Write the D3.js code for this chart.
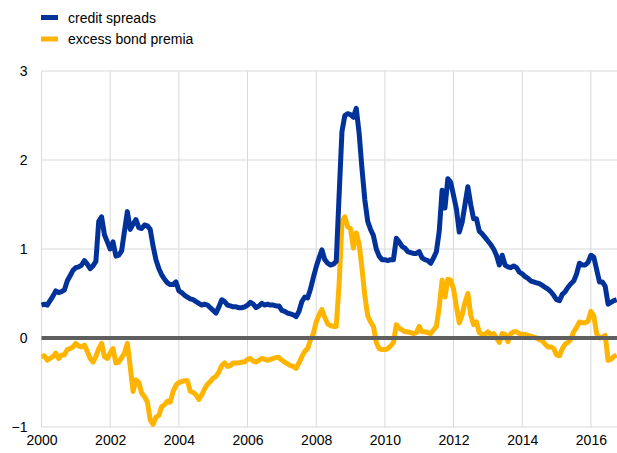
<!DOCTYPE html>
<html><head><meta charset="utf-8">
<script src="https://cdn.jsdelivr.net/npm/d3@7"></script>
<style>body{margin:0;background:#fff}svg{display:block}text{font-family:"Liberation Sans",Arial,sans-serif}</style>
</head><body><svg id="c" width="617" height="453"></svg>
<script>
const startYear = 2000;
const seriesNames = ["credit spreads", "excess bond premia"];
const creditSpreads = [
0.37,0.38,0.37,0.42,0.47,0.53,0.51,0.52,0.54,0.64,0.70,0.76,
0.79,0.80,0.82,0.87,0.83,0.78,0.81,0.86,1.31,1.36,1.16,1.08,
1.00,1.08,0.92,0.93,0.98,1.20,1.42,1.22,1.28,1.33,1.24,1.23,
1.27,1.26,1.22,1.03,0.88,0.78,0.71,0.66,0.62,0.60,0.60,0.63,
0.53,0.51,0.48,0.46,0.44,0.43,0.41,0.39,0.37,0.38,0.37,0.34,
0.31,0.28,0.35,0.43,0.41,0.37,0.36,0.35,0.35,0.34,0.34,0.35,
0.37,0.40,0.38,0.34,0.36,0.39,0.37,0.38,0.37,0.37,0.36,0.36,
0.31,0.30,0.28,0.27,0.26,0.24,0.30,0.41,0.46,0.45,0.55,0.68,
0.80,0.90,0.99,0.88,0.84,0.82,0.83,0.86,1.60,2.32,2.50,2.52,
2.51,2.48,2.58,2.30,1.90,1.55,1.31,1.22,1.15,1.00,0.92,0.88,
0.88,0.87,0.88,0.88,1.12,1.08,1.03,1.01,0.97,0.96,0.95,0.95,
0.97,0.90,0.88,0.87,0.84,0.90,0.97,1.20,1.66,1.46,1.79,1.75,
1.60,1.45,1.19,1.30,1.50,1.70,1.50,1.34,1.34,1.20,1.17,1.13,
1.09,1.05,1.00,0.93,0.82,0.93,0.82,0.80,0.79,0.81,0.79,0.74,
0.72,0.69,0.67,0.64,0.63,0.62,0.61,0.59,0.57,0.55,0.52,0.48,
0.43,0.42,0.49,0.52,0.57,0.61,0.64,0.72,0.84,0.82,0.82,0.85,
0.93,0.91,0.77,0.63,0.63,0.58,0.38,0.40,0.42,0.43];
const excessBondPremia = [
-0.21,-0.20,-0.25,-0.23,-0.21,-0.17,-0.23,-0.19,-0.19,-0.13,-0.12,-0.10,
-0.06,-0.09,-0.10,-0.08,-0.15,-0.23,-0.27,-0.21,-0.12,-0.06,-0.21,-0.23,
-0.17,-0.12,-0.28,-0.27,-0.22,-0.17,-0.06,-0.32,-0.60,-0.47,-0.50,-0.62,
-0.66,-0.72,-0.92,-0.97,-0.89,-0.87,-0.77,-0.75,-0.71,-0.72,-0.60,-0.53,
-0.50,-0.49,-0.48,-0.48,-0.60,-0.61,-0.64,-0.69,-0.64,-0.57,-0.52,-0.49,
-0.45,-0.43,-0.38,-0.31,-0.28,-0.32,-0.31,-0.28,-0.28,-0.28,-0.27,-0.27,
-0.24,-0.23,-0.26,-0.27,-0.25,-0.23,-0.24,-0.25,-0.24,-0.23,-0.22,-0.22,
-0.25,-0.27,-0.29,-0.31,-0.32,-0.34,-0.28,-0.21,-0.15,-0.12,-0.02,0.05,
0.18,0.26,0.32,0.23,0.16,0.14,0.13,0.13,0.60,1.31,1.36,1.25,
1.23,1.01,1.18,1.06,0.78,0.47,0.25,0.18,0.13,-0.05,-0.12,-0.13,
-0.13,-0.12,-0.09,-0.05,0.15,0.11,0.09,0.07,0.07,0.06,0.05,0.06,
0.13,0.07,0.07,0.06,0.05,0.09,0.13,0.35,0.65,0.46,0.66,0.65,
0.55,0.35,0.17,0.26,0.40,0.50,0.26,0.15,0.18,0.06,0.04,0.04,
0.07,0.04,0.05,0.00,-0.05,0.05,0.04,-0.04,0.05,0.07,0.07,0.05,
0.04,0.04,0.03,0.02,0.01,0.00,-0.02,-0.03,-0.07,-0.10,-0.10,-0.12,
-0.19,-0.20,-0.12,-0.07,-0.05,-0.01,0.07,0.12,0.18,0.17,0.17,0.19,
0.30,0.25,0.05,0.00,0.01,0.03,-0.25,-0.24,-0.21,-0.19];
const xTicks = [2000,2002,2004,2006,2008,2010,2012,2014,2016];
const yTicks = [-1,0,1,2,3];
const colors = ["#003299", "#FFB400"];

const svg = d3.select("#c");
const L = 41.5, R = 617, T = 71, B = 427;
const x = d3.scaleLinear().domain([2000, 2016.76]).range([L, R]);
const y = d3.scaleLinear().domain([-1, 3]).range([B, T]);

// grid
const g = svg.append("g");
g.selectAll("line.v").data(xTicks).join("line")
  .attr("x1", d => x(d)).attr("x2", d => x(d)).attr("y1", T).attr("y2", B)
  .attr("stroke", "#d9d9d9").attr("stroke-width", 1);
g.selectAll("line.h").data(yTicks).join("line")
  .attr("x1", L).attr("x2", R).attr("y1", d => y(d)).attr("y2", d => y(d))
  .attr("stroke", "#d9d9d9").attr("stroke-width", 1);

// axes labels
const yAxis = d3.axisLeft(y).tickValues(yTicks).tickSize(0).tickPadding(0).tickFormat(d3.format("d"));
const ya = svg.append("g").attr("transform", `translate(${L-14},0)`).call(yAxis);
ya.select(".domain").remove();
ya.selectAll("text").attr("font-size", 14).attr("fill", "#000").attr("font-family", "Liberation Sans, Arial, sans-serif");

const xAxis = d3.axisBottom(x).tickValues(xTicks).tickSize(0).tickPadding(0).tickFormat(d3.format("d"));
const xa = svg.append("g").attr("transform", `translate(0,${B+8})`).call(xAxis);
xa.select(".domain").remove();
xa.selectAll("text").attr("font-size", 14).attr("fill", "#000").attr("font-family", "Liberation Sans, Arial, sans-serif");

// lines
const line = d3.line().x((d, i) => x(startYear + i / 12)).y(d => y(d)).curve(d3.curveLinear);
[excessBondPremia, creditSpreads].forEach((s, k) => {
  svg.append("path").datum(s).attr("d", line).attr("fill", "none")
    .attr("stroke", k === 0 ? colors[1] : colors[0]).attr("stroke-width", 5)
    .attr("stroke-linejoin", "round").attr("stroke-linecap", "butt");
});

// zero line
svg.append("line").attr("x1", L).attr("x2", R).attr("y1", y(0)).attr("y2", y(0))
  .attr("stroke", "#5f5f5f").attr("stroke-width", 4);

// legend
const lg = svg.append("g");
seriesNames.forEach((n, i) => {
  lg.append("rect").attr("x", 41).attr("y", 15 + i * 21.5).attr("width", 17).attr("height", 5).attr("fill", colors[i]);
  lg.append("text").attr("x", 68).attr("y", 18 + i * 21.5).attr("dy", "0.35em")
    .attr("font-size", 14).attr("fill", "#000").text(n);
});
</script></body></html>
